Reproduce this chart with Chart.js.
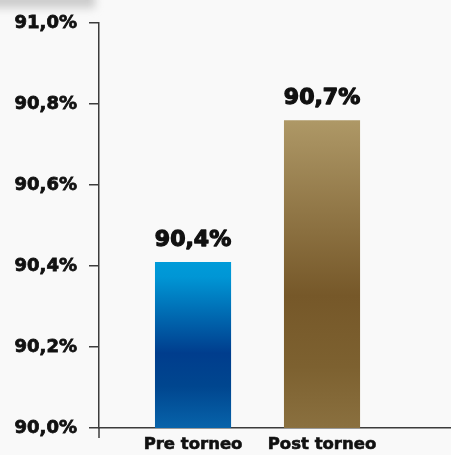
<!DOCTYPE html>
<html>
<head>
<meta charset="utf-8">
<script src="https://cdn.jsdelivr.net/npm/chart.js@4/dist/chart.umd.min.js"></script>
<style>
  html, body { margin: 0; padding: 0; background: #f9f9f9; }
  #wrap { width: 451px; height: 455px; }
</style>
</head>
<body>
<div id="wrap"><canvas id="c" width="451" height="455"></canvas></div>
<script>
// ---- data ----
const categories = ['Pre torneo', 'Post torneo'];
const values = [90.41, 90.76];
const yTickValues = [90.0, 90.2, 90.4, 90.6, 90.8, 91.0];

// ---- styles ----
const FONT = "'DejaVu Sans', sans-serif";
const TEXT = '#111111';
const AXIS = '#3c3c3c';
const gradientStops = [
  [[0, '#009bd9'], [0.09, '#0096d5'], [0.55, '#003d8d'], [0.75, '#00468f'], [1, '#0763aa']],
  [[0, '#ae9866'], [0.08, '#a68f5e'], [0.57, '#765829'], [0.8, '#7d6130'], [1, '#8a703f']]
];
const xRange = { start: -0.729, end: 2.0 };

const fmt = v => v.toFixed(1).replace('.', ',') + '%';
const fmtTrunc = v => (Math.floor(v * 10 + 1e-6) / 10).toFixed(1).replace('.', ',') + '%';

const bgPlugin = {
  id: 'bg',
  beforeDraw(chart) {
    const ctx = chart.ctx;
    ctx.save();
    ctx.fillStyle = '#f9f9f9';
    ctx.fillRect(0, 0, chart.width, chart.height);
    // faint blurred grey smudge at the top-left corner of the reference picture
    ctx.filter = 'blur(4px)';
    ctx.fillStyle = 'rgba(175,175,175,0.6)';
    ctx.fillRect(-10, -10, 105, 18);
    ctx.filter = 'none';
    ctx.restore();
  }
};

const extrasPlugin = {
  id: 'extras',
  afterDatasetsDraw(chart) {
    const ctx = chart.ctx;
    const meta = chart.getDatasetMeta(0);
    ctx.save();
    ctx.fillStyle = TEXT;
    ctx.strokeStyle = TEXT;
    ctx.lineWidth = 1.3;
    ctx.lineJoin = 'round';
    ctx.font = "bold 22px " + FONT;
    ctx.textAlign = 'center';
    ctx.textBaseline = 'alphabetic';
    meta.data.forEach((bar, i) => {
      const t = fmtTrunc(values[i]);
      ctx.fillText(t, bar.x, bar.y - 16);
      ctx.strokeText(t, bar.x, bar.y - 16);
    });
    // small downward extension of the y axis below the x axis
    const a = chart.chartArea;
    ctx.strokeStyle = AXIS;
    ctx.lineWidth = 1.5;
    ctx.beginPath();
    ctx.moveTo(a.left, a.bottom);
    ctx.lineTo(a.left, a.bottom + 10);
    ctx.stroke();
    ctx.restore();
  }
};

new Chart(document.getElementById('c'), {
  type: 'bar',
  data: {
    labels: categories,
    datasets: [{
      data: values,
      backgroundColor: (c) => {
        const chart = c.chart;
        const i = c.dataIndex;
        if (!chart.chartArea || i === undefined) return gradientStops[0][0][1];
        const ys = chart.scales.y;
        const top = ys.getPixelForValue(values[i]);
        const bottom = ys.getPixelForValue(ys.min);
        const g = chart.ctx.createLinearGradient(0, top, 0, bottom);
        gradientStops[i].forEach(([o, col]) => g.addColorStop(o, col));
        return g;
      },
      borderWidth: 0,
      categoryPercentage: 0.59,
      barPercentage: 1.0
    }]
  },
  options: {
    responsive: false,
    animation: false,
    layout: { padding: { top: 23, right: 0, left: 0, bottom: 0 } },
    plugins: { legend: { display: false }, tooltip: { enabled: false } },
    scales: {
      x: {
        type: 'category',
        offset: true,
        afterBuildTicks(scale) {
          scale._startValue = xRange.start;
          scale._valueRange = xRange.end - xRange.start;
        },
        afterFit(scale) { scale.height = 27; },
        grid: { display: false, drawTicks: false },
        border: { display: true, color: AXIS, width: 1.5 },
        ticks: {
          color: TEXT,
          font: { family: FONT, size: 16.5, weight: 'bold' },
          textStrokeColor: TEXT,
          textStrokeWidth: 0.6,
          padding: 7,
          maxRotation: 0,
          autoSkip: false
        }
      },
      y: {
        min: 90,
        max: 91,
        afterBuildTicks(scale) {
          scale.ticks = yTickValues.map(v => ({ value: v }));
        },
        afterFit(scale) { scale.width = 99; },
        grid: {
          drawOnChartArea: false,
          drawTicks: true,
          tickLength: 10,
          color: AXIS,
          lineWidth: 1.5
        },
        border: { display: true, color: AXIS, width: 1.5 },
        ticks: {
          color: TEXT,
          font: { family: FONT, size: 18, weight: 'bold' },
          textStrokeColor: TEXT,
          textStrokeWidth: 0.8,
          padding: 12,
          callback: (v) => fmt(v)
        }
      }
    }
  },
  plugins: [bgPlugin, extrasPlugin]
});
</script>
</body>
</html>
